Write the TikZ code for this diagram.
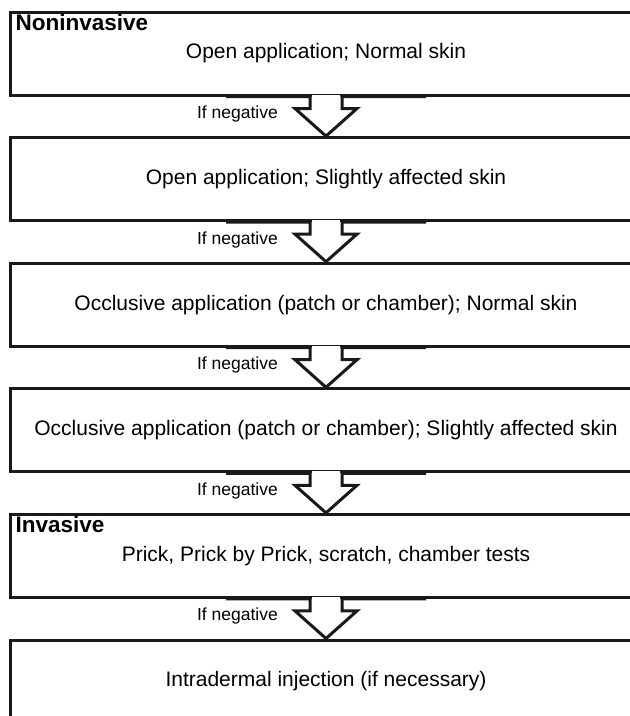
\documentclass[tikz,border=0pt]{standalone}
\usepackage{fontspec}
\setmainfont{Liberation Sans}
\usetikzlibrary{calc}
\begin{document}
\begin{tikzpicture}[x=1pt,y=1pt,
  stage/.style={draw=black!90, line width=3pt, minimum width=632pt, minimum height=83pt, inner sep=0pt, fill=white, font=\fontsize{21}{25}\selectfont},
  headtxt/.style={anchor=base west, inner sep=0pt, font=\bfseries\fontsize{22.5}{26}\selectfont},
  lbl/.style={anchor=east, inner sep=0pt, font=\fontsize{17.5}{20}\selectfont},
  flow/.style={draw=black!90, line width=3pt, fill=white, line join=miter}]
\useasboundingbox (0,0) rectangle (630,-716);
\clip (0,0) rectangle (630,-716);
\node[stage] (b1) at (326,-53.5) {Open application; Normal skin};
\node[stage] (b2) at (326,-179.1) {Open application; Slightly affected skin};
\node[stage] (b3) at (326,-304.7) {Occlusive application (patch or chamber); Normal skin};
\node[stage] (b4) at (326,-430.3) {Occlusive application (patch or chamber); Slightly affected skin};
\node[stage] (b5) at (326,-555.9) {Prick, Prick by Prick, scratch, chamber tests};
\node[stage] (b6) at (326,-681.5) {Intradermal injection (if necessary)};
\node[headtxt] (h1) at ($(b1.north west)+(7,-19.5)$) {Noninvasive};
\node[headtxt] (h5) at ($(b5.north west)+(7,-19.5)$) {Invasive};
\foreach \a/\b/\n in {b1/b2/l1,b2/b3/l2,b3/b4/l3,b4/b5/l4,b5/b6/l5}{
  \fill[white] ($(\a.south)+(-14.4,2)$) rectangle ($(\a.south)+(14.4,-2)$);
  \draw[flow] ($(\a.south)+(-100,0)$) -- ($(\a.south)+(-16,0)$) -- ++(0,-12) -- ++(-15,0) -- (\b.north)
     -- ($(\a.south)+(31,-12)$) -- ++(-15,0) -- ++(0,12) -- ($(\a.south)+(100,0)$);
  \node[lbl] (\n) at ($(\a.south)+(-48,-17.5)$) {If negative};
}
\end{tikzpicture}
\end{document}
